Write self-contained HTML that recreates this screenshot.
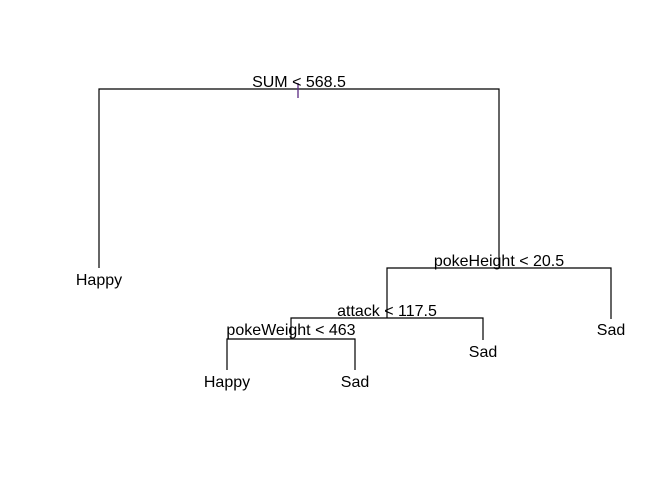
<!DOCTYPE html>
<html><head><style>body{margin:0;background:#fff}</style></head><body>
<svg width="672" height="480" xmlns="http://www.w3.org/2000/svg" font-family="Liberation Sans, sans-serif" font-size="16">
<g stroke="#000" stroke-width="1.2" fill="none">
<polyline points="99,268 99,89 499,89 499,268"/>
<polyline points="387,318 387,268 611,268 611,319"/>
<polyline points="291,339 291,318 483,318 483,340"/>
<polyline points="227,370 227,339 355,339 355,370"/>
</g>
<line x1="298" y1="83" x2="298" y2="98" stroke="#5a2a82" stroke-width="1.3"/>
<g text-anchor="middle" fill="#000">
<text x="299" y="87">SUM &lt; 568.5</text>
<text x="499" y="266">pokeHeight &lt; 20.5</text>
<text x="387" y="316">attack &lt; 117.5</text>
<text x="291" y="335">pokeWeight &lt; 463</text>
<text x="99" y="285">Happy</text>
<text x="611" y="335">Sad</text>
<text x="483" y="357">Sad</text>
<text x="227" y="387">Happy</text>
<text x="355" y="387">Sad</text>
</g>
</svg>
</body></html>
